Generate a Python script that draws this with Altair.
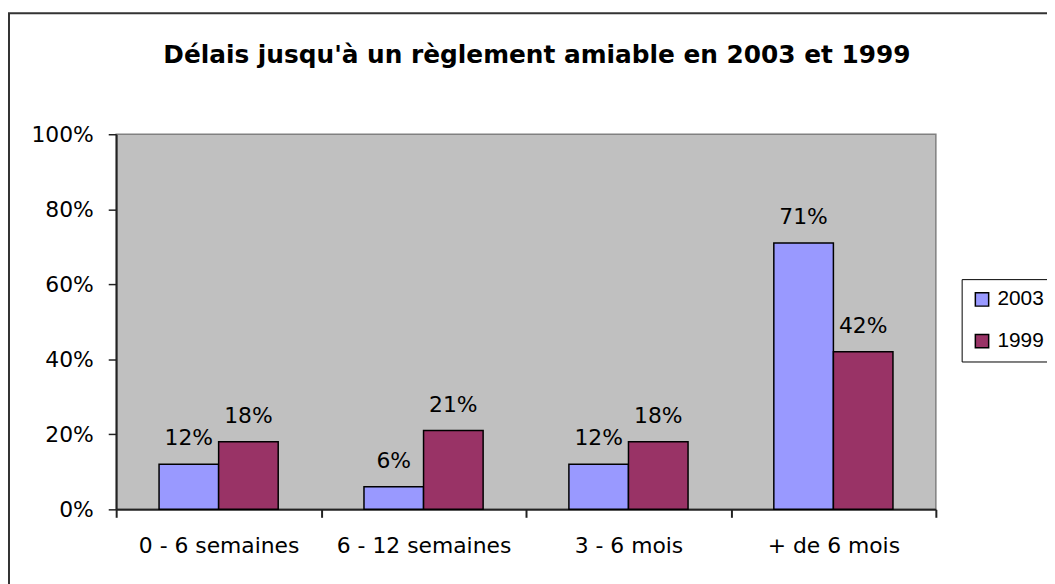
import altair as alt
import pandas as pd

categories = ["0 - 6 semaines", "6 - 12 semaines", "3 - 6 mois", "+ de 6 mois"]
years = ["2003", "1999"]
v2003 = [0.12, 0.06, 0.12, 0.71]
v1999 = [0.18, 0.21, 0.18, 0.42]
colors = ["#9999FF", "#993366"]
title_text = "Délais jusqu'à un règlement amiable en 2003 et 1999"

rows = []
for c, a, b in zip(categories, v2003, v1999):
    rows.append({"cat": c, "year": "2003", "val": a, "lab": f"{round(a*100)}%"})
    rows.append({"cat": c, "year": "1999", "val": b, "lab": f"{round(b*100)}%"})
df = pd.DataFrame(rows)

FONT = "DejaVu Sans"

x = alt.X("cat:N", sort=categories, title=None,
          scale=alt.Scale(paddingInner=0, paddingOuter=0),
          axis=alt.Axis(labelAngle=0, labelFontSize=22, labelFont=FONT, labelColor="black",
                        tickBand="extent", tickSize=8, tickColor="#222222", domainColor="#222222",
                        domainWidth=2, tickWidth=2, labelPadding=18, grid=False))
xo = alt.XOffset("year:N", sort=years,
                 scale=alt.Scale(paddingOuter=0.72, paddingInner=0))
y = alt.Y("val:Q", title=None,
          scale=alt.Scale(domain=[0, 1]),
          axis=alt.Axis(format="%", values=[0, 0.2, 0.4, 0.6, 0.8, 1.0], labelFontSize=22,
                        labelFont=FONT, labelColor="black", tickSize=8, tickColor="#222222",
                        domainColor="#222222", domainWidth=2, tickWidth=1.5,
                        labelPadding=15, grid=False))

base = alt.Chart(df)

bars = base.mark_bar(stroke="black", strokeWidth=1.5).encode(
    x=x, xOffset=xo, y=y,
    color=alt.Color("year:N", sort=years,
                    scale=alt.Scale(domain=years, range=colors),
                    legend=alt.Legend(title=None, orient="none", legendX=852, legendY=146,
                                      labelFontSize=21, labelFont="Liberation Sans",
                                      labelColor="black",
                                      symbolType="square", symbolSize=180,
                                      symbolStrokeColor="black", symbolStrokeWidth=1.5,
                                      rowPadding=20, padding=10, labelOffset=5,
                                      strokeColor="black", fillColor="white"))
)

texts = base.mark_text(baseline="alphabetic", dy=-19, fontSize=22, font=FONT, color="black").encode(
    x=alt.X("cat:N", sort=categories), xOffset=alt.XOffset("year:N", sort=years), y="val:Q",
    text="lab:N"
)

border = alt.Chart(pd.DataFrame({"a": [0]})).mark_rect(
    fill="transparent", stroke="#333333", strokeWidth=2
).encode(
    x=alt.value(-108), x2=alt.value(950), y=alt.value(-122), y2=alt.value(470)
)

title = alt.Chart(pd.DataFrame({"t": [title_text]})).mark_text(
    fontSize=25, font=FONT, fontWeight="bold", color="black", align="center", baseline="alphabetic"
).encode(
    x=alt.value(424), y=alt.value(-72), text="t:N"
)

chart = alt.layer(border, bars, texts, title).properties(
    width=826, height=378,
    autosize=alt.AutoSizeParams(type="none"),
    padding={"left": 109, "top": 125, "right": 112, "bottom": 73},
    background="white",
).configure_view(
    fill="#C0C0C0", stroke="#808080", strokeWidth=1.5
)

chart.save("out.html", embed_options={"renderer": "svg", "actions": False})
